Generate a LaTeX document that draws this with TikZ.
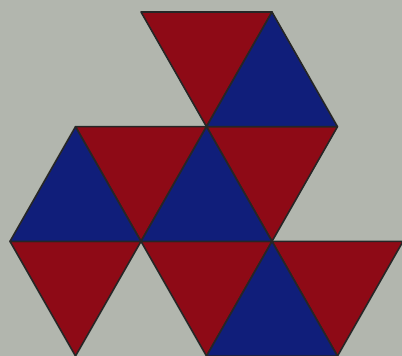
\documentclass[tikz,border=0pt]{standalone}
\usepackage{xcolor}
\usepackage{tikz}
\definecolor{wallgray}{RGB}{178,182,174}
\definecolor{tred}{RGB}{142,10,22}
\definecolor{tblue}{RGB}{16,30,122}
\newcommand{\side}{131}
\newcommand{\hgt}{114.7}
\begin{document}
\begin{tikzpicture}[x=0.01cm, y=-0.01cm, tri/.style={draw=black!85, line width=0.45pt, line join=round}]
% ---- background
\fill[wallgray] (0,0) rectangle (402,356);
\useasboundingbox (0,0) rectangle (402,356);
% ---- red triangles, point down (given by top left corner)
\foreach \x/\y in {141/12, 75.5/126.7, 206.5/126.7, 10/241.4, 141/241.4, 272/241.4}
  \filldraw[tri, fill=tred] (\x,\y) -- ++(\side,0) -- ++(-\side/2,\hgt) -- cycle;
% ---- blue triangles, point up (given by apex)
\foreach \x/\y in {272/12, 75.5/126.7, 206.5/126.7, 272/241.4}
  \filldraw[tri, fill=tblue] (\x,\y) -- ++(\side/2,\hgt) -- ++(-\side,0) -- cycle;
\end{tikzpicture}
\end{document}
